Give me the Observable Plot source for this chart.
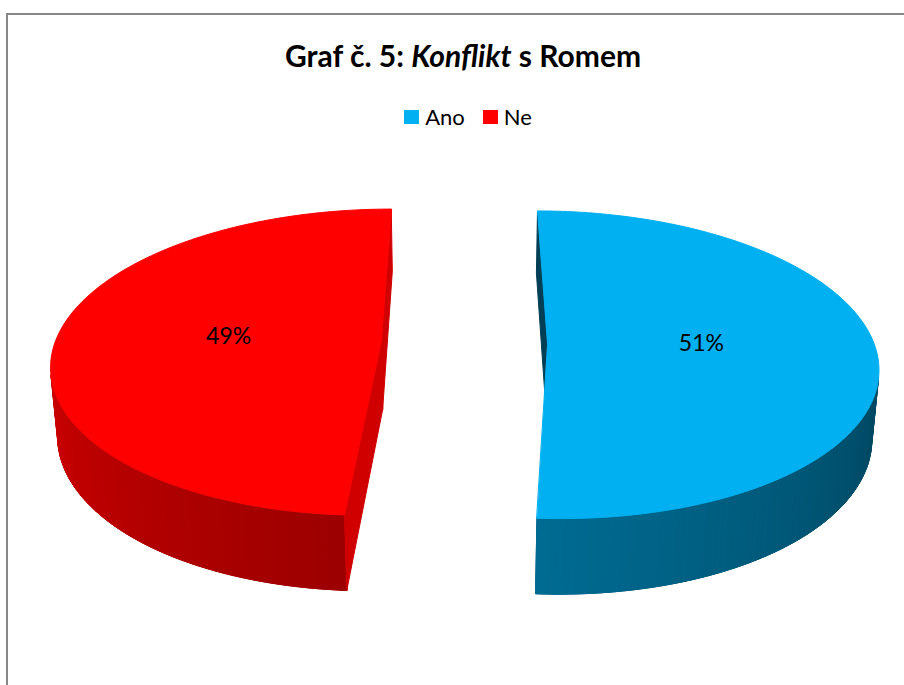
<!DOCTYPE html>
<html><head><meta charset="utf-8">
<script src="https://cdn.jsdelivr.net/npm/d3@7"></script>
<script src="https://cdn.jsdelivr.net/npm/@observablehq/plot@0.6"></script>
<style>
html,body{margin:0;padding:0;width:904px;height:685px;overflow:hidden;background:#fff;font-family:Lato,"Open Sans",sans-serif;}
#chart{position:absolute;left:0;top:0;}
#frame{position:absolute;left:6px;top:13px;width:1000px;height:1000px;border:2px solid #878787;box-sizing:border-box;}
#title{position:absolute;left:0;top:37px;width:926px;text-align:center;font-weight:bold;font-size:30px;line-height:36px;color:#000;white-space:nowrap;}
#legend{position:absolute;left:0;top:104px;width:936px;display:flex;justify-content:center;gap:18px;font-size:22px;line-height:26px;color:#000;}
.item{display:flex;align-items:center;gap:6px;}
.sw{width:15px;height:14px;display:inline-block;}
</style></head>
<body>
<div id="chart"></div>
<div id="frame"></div>
<div id="title">Graf č. 5: <i>Konflikt</i> s Romem</div>
<div id="legend"></div>
<script>
const categories = ["Ano", "Ne"];
const values = [51, 49];
const labels = ["51%", "49%"];
const colors = ["#00B0F0", "#FF0000"];

const W = 904, H = 685;
const view = {tiltDeg: 27.5, dist: 7.31, focal: 2115, cx: 463.8, cy: 342, explode: 0.255, thick: 0.24, startDeg: 0, labelR: 0.47};
const cutShade = [0.36, 0.82];

const rad = Math.PI / 180;
const s = Math.sin(view.tiltDeg * rad), c = Math.cos(view.tiltDeg * rad);
const D = view.dist * c;
function proj(X, Y, Z) {
  const yc = Y * c + Z * s, zc = Z * c - Y * s, d = D + zc;
  return {x: X / d, y: -yc / d};
}
const cam = [0, D * s, -D * c];
function visible(P, n) {
  return (cam[0] - P[0]) * n[0] + (cam[1] - P[1]) * n[1] + (cam[2] - P[2]) * n[2] > 0;
}

const pie = d3.pie().sort(null)
  .startAngle(view.startDeg * rad)
  .endAngle(view.startDeg * rad + 2 * Math.PI)(values);
const wallShade = d3.scaleLinear().domain([90, 270]).range([0.37, 0.83]).clamp(true);

const faces = [];
const labelData = [];
pie.forEach((p, i) => {
  const base = d3.rgb(colors[i]);
  const tone = k => d3.rgb(base.r * k, base.g * k, base.b * k).formatHex();
  const mid = (p.startAngle + p.endAngle) / 2;
  const ox = view.explode * Math.sin(mid), oz = view.explode * Math.cos(mid);
  const t = view.thick;
  const rim = (a, Y) => [ox + Math.sin(a), Y, oz + Math.cos(a)];
  const push = (id, pts, color) => pts.forEach(P => {
    const q = proj(P[0], P[1], P[2]);
    faces.push({id, x: q.x, y: q.y, color});
  });
  const N = Math.ceil((p.endAngle - p.startAngle) / rad);
  const ang = k => p.startAngle + (p.endAngle - p.startAngle) * k / N;
  const segs = [];
  for (let k = 0; k < N; k++) {
    const a = ang(k), b = ang(k + 1), m = (a + b) / 2;
    const n = [Math.sin(m), 0, Math.cos(m)];
    if (visible(rim(m, -t / 2), n)) segs.push([a, b, m]);
  }
  if (segs.length) {
    const arc = [segs[0][0], ...segs.map(d => d[1])];
    const midDeg = ((segs[Math.floor(segs.length / 2)][2] / rad) % 360 + 360) % 360;
    push(`u${i}`, [...arc.map(a => rim(a, 0)), ...arc.slice().reverse().map(a => rim(a, -t))], tone(wallShade(midDeg)));
  }
  segs.forEach(([a, b, m], k) => {
    const deg = ((m / rad) % 360 + 360) % 360;
    push(`w${i}-${k}`, [rim(a, 0), rim(b, 0), rim(b, -t), rim(a, -t)], tone(wallShade(deg)));
  });
  [[p.startAngle, -1], [p.endAngle, 1]].forEach(([a, sgn], j) => {
    const n = [sgn * Math.cos(a), 0, -sgn * Math.sin(a)];
    if (!visible([ox + 0.5 * Math.sin(a), -t / 2, oz + 0.5 * Math.cos(a)], n)) return;
    push(`c${i}-${j}`, [[ox, 0, oz], rim(a, 0), rim(a, -t), [ox, -t, oz]], tone(cutShade[i]));
  });
  const top = [[ox, 0, oz]];
  for (let k = 0; k <= N; k++) top.push(rim(ang(k), 0));
  push(`t${i}`, top, colors[i]);
  const L = proj(ox + view.labelR * Math.sin(mid), 0, oz + view.labelR * Math.cos(mid));
  labelData.push({x: L.x, y: L.y, label: labels[i]});
});

const chart = Plot.plot({
  width: W, height: H, margin: 0,
  style: {background: "transparent", fontFamily: "Lato, sans-serif"},
  x: {domain: [-view.cx / view.focal, (W - view.cx) / view.focal], range: [0, W], axis: null},
  y: {domain: [-view.cy / view.focal, (H - view.cy) / view.focal], range: [0, H], axis: null},
  marks: [
    Plot.line(faces, {x: "x", y: "y", z: "id", fill: "color", stroke: "color", strokeWidth: 1, curve: "linear-closed"}),
    Plot.text(labelData, {x: "x", y: "y", text: "label", fontSize: 23, fill: "#000", dy: -2})
  ]
});
document.getElementById("chart").appendChild(chart);

const legend = document.getElementById("legend");
categories.forEach((cat, i) => {
  const item = document.createElement("div");
  item.className = "item";
  const sw = document.createElement("span");
  sw.className = "sw";
  sw.style.background = colors[i];
  const tx = document.createElement("span");
  tx.textContent = cat;
  item.appendChild(sw);
  item.appendChild(tx);
  legend.appendChild(item);
});
</script>
</body></html>
